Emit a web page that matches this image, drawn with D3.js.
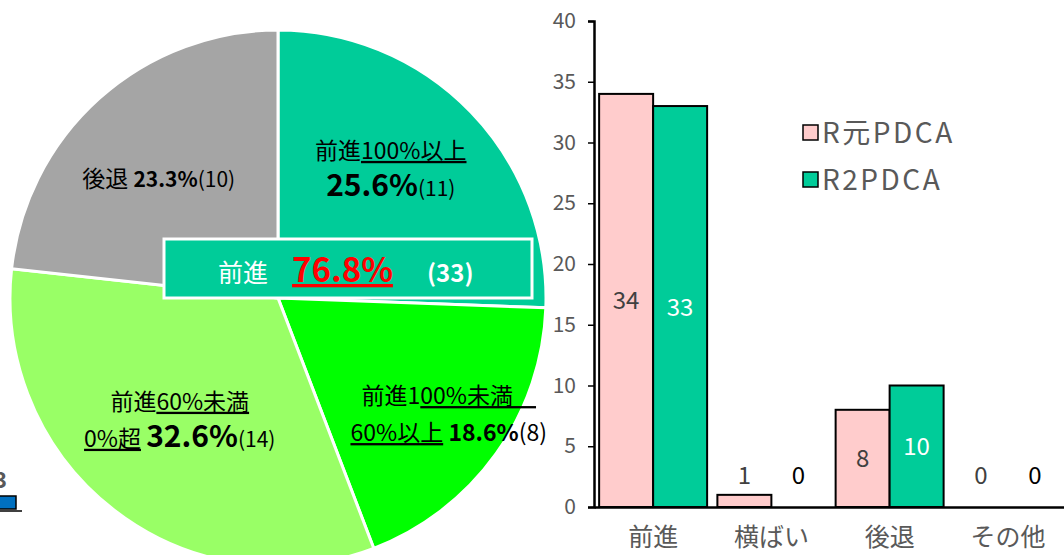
<!DOCTYPE html>
<html>
<head>
<meta charset="utf-8">
<script src="https://cdn.jsdelivr.net/npm/d3@7"></script>
<style>
  body { margin: 0; background: #fff; }
  svg { display: block; }
  text { font-family: "Noto Sans CJK JP", "Noto Sans", sans-serif; }
</style>
</head>
<body>
<div id="chart"></div>
<script>
// pie data
const pieNames = ["前進100%以上", "前進100%未満60%以上", "前進60%未満0%超", "後退"];
const pieCounts = [11, 8, 14, 10];
const pieColors = ["#00CC99", "#00FF00", "#99FF66", "#A5A5A5"];

// bar data
const categories = ["前進", "横ばい", "後退", "その他"];
const seriesNames = ["R元PDCA", "R2PDCA"];
const seriesR1 = [34, 1, 8, 0];
const seriesR2 = [33, 0, 10, 0];
const barColors = ["#FFCCCC", "#00CC99"];
const yTicks = [0, 5, 10, 15, 20, 25, 30, 35, 40];

const width = 1064, height = 555;
const gray = "#595959";

const svg = d3.select("#chart")
  .append("svg")
  .attr("width", width)
  .attr("height", height);

// --- leftover of a neighbouring chart at the bottom-left edge
svg.append("text")
  .attr("x", -6).attr("y", 488)
  .attr("font-size", 22).attr("font-weight", "bold")
  .attr("fill", "#595959")
  .text("3");
svg.append("rect")
  .attr("x", -2).attr("y", 496).attr("width", 18).attr("height", 13)
  .attr("fill", "#0070C0").attr("stroke", "#000").attr("stroke-width", 1.5);
svg.append("line")
  .attr("x1", 0).attr("x2", 22).attr("y1", 511).attr("y2", 511)
  .attr("stroke", "#000").attr("stroke-width", 1.5);

// ---------------- pie ----------------
const cx = 278, cy = 298, radius = 268;
const total = d3.sum(pieCounts);

const pie = d3.pie().sort(null).value(d => d);
const arc = d3.arc().innerRadius(0).outerRadius(radius);
const labelArc = d3.arc().innerRadius(radius * 0.6).outerRadius(radius * 0.6);

const pieG = svg.append("g").attr("transform", `translate(${cx},${cy})`);
const arcs = pie(pieCounts);

pieG.selectAll("path")
  .data(arcs)
  .join("path")
  .attr("d", arc)
  .attr("fill", (d, i) => pieColors[i])
  .attr("stroke", "#fff")
  .attr("stroke-width", 3);

const share = v => Math.round(v / total * 1000) / 10;
const pct = v => share(v).toFixed(1) + "%";

// label nudges away from the centroid
const labelShift = [[-3, -18], [40, 22], [0, -6], [-12, 0]];

function pieLabel(i, lines) {
  const c = labelArc.centroid(arcs[i]);
  lines.forEach((parts, li) => {
    const t = pieG.append("text")
      .attr("text-anchor", "middle")
      .attr("fill", "#000")
      .attr("x", c[0] + labelShift[i][0])
      .attr("y", c[1] + labelShift[i][1] + (li - (lines.length - 1) / 2) * 37 + 9);
    parts.forEach(p => {
      t.append("tspan")
        .attr("font-size", p.size || 23)
        .attr("font-weight", p.bold ? "bold" : "normal")
        .attr("text-decoration", p.u ? "underline" : null)
        .text(p.t);
    });
  });
}

pieLabel(0, [
  [{ t: "前進" }, { t: "100%以上", u: true }],
  [{ t: pct(pieCounts[0]), bold: true, size: 30 }, { t: `(${pieCounts[0]})`, size: 21 }]
]);
pieLabel(1, [
  [{ t: "前進1" }, { t: "00%未満　", u: true }],
  [{ t: "60%以上", u: true }, { t: " " + pct(pieCounts[1]), bold: true }, { t: `(${pieCounts[1]})` }]
]);
pieLabel(2, [
  [{ t: "前進" }, { t: "60%未満", u: true }],
  [{ t: "0%超", u: true }, { t: " " }, { t: pct(pieCounts[2]), bold: true, size: 30 }, { t: `(${pieCounts[2]})`, size: 21 }]
]);
pieLabel(3, [
  [{ t: "後退 " }, { t: pct(pieCounts[3]), bold: true, size: 21 }, { t: `(${pieCounts[3]})`, size: 21 }]
]);

// summary box: forward total (sum of the rounded shares, as in the source)
const fwd = pieCounts[0] + pieCounts[1] + pieCounts[2];
const fwdPct = (share(pieCounts[0]) + share(pieCounts[1]) + share(pieCounts[2])).toFixed(1) + "%";
const box = svg.append("g");
box.append("rect")
  .attr("x", 164).attr("y", 239).attr("width", 368).attr("height", 59)
  .attr("fill", "#00CC99").attr("stroke", "#fff").attr("stroke-width", 3);
const bt = box.append("text").attr("y", 282).attr("x", 218);
bt.append("tspan").attr("fill", "#fff").attr("font-size", 25).text("前進");
bt.append("tspan").attr("x", 292).attr("fill", "#FF0000").attr("font-size", 33)
  .attr("font-weight", "bold").attr("text-decoration", "underline")
  .text(fwdPct);
bt.append("tspan").attr("x", 427).attr("fill", "#fff").attr("font-size", 24)
  .attr("font-weight", "bold").text(`(${fwd})`);

// ---------------- bars ----------------
const x0 = d3.scaleBand().domain(categories).range([594, 1067]).padding(0);
const x1 = d3.scaleBand().domain(seriesNames).range([0, x0.bandwidth()]).paddingOuter(0.095);
const y = d3.scaleLinear().domain([0, 40]).range([507, 21]);

const rows = categories.map((c, i) => ({ cat: c, vals: [seriesR1[i], seriesR2[i]] }));

const groups = svg.append("g").selectAll("g")
  .data(rows)
  .join("g")
  .attr("transform", d => `translate(${x0(d.cat)},0)`);

groups.selectAll("rect")
  .data(d => d.vals.map((v, k) => ({ v, k })))
  .join("rect")
  .filter(d => d.v > 0)
  .attr("x", d => x1(seriesNames[d.k]))
  .attr("y", d => y(d.v))
  .attr("width", x1.bandwidth())
  .attr("height", d => y(0) - y(d.v))
  .attr("fill", d => barColors[d.k])
  .attr("stroke", "#000")
  .attr("stroke-width", 2);

groups.selectAll("text.val")
  .data(d => d.vals.map((v, k) => ({ v, k })))
  .join("text")
  .attr("class", "val")
  .attr("x", d => x1(seriesNames[d.k]) + x1.bandwidth() / 2)
  .attr("y", d => d.v >= 5 ? (y(d.v) + y(0)) / 2 + 9 : y(0) - 23)
  .attr("text-anchor", "middle")
  .attr("font-family", "Roboto, sans-serif")
  .attr("font-size", 24)
  .attr("fill", d => d.k === 0 ? "#404040" : (d.v >= 5 ? "#fff" : "#000"))
  .text(d => d.v);

// y axis
const yAxis = svg.append("g")
  .attr("transform", "translate(594,0)")
  .call(d3.axisLeft(y).tickValues(yTicks).tickSize(6).tickPadding(12));
yAxis.select(".domain").attr("stroke", "#000").attr("stroke-width", 2.5);
yAxis.selectAll(".tick line").attr("stroke", "#000").attr("stroke-width", 1.5);
yAxis.selectAll(".tick text")
  .attr("font-family", "Roboto, sans-serif")
  .attr("font-size", 21)
  .attr("fill", gray);

// x axis
const xAxis = svg.append("g")
  .attr("transform", "translate(0,507)")
  .call(d3.axisBottom(x0).tickSize(0).tickPadding(21));
xAxis.select(".domain").attr("stroke", "#000").attr("stroke-width", 2.5);
xAxis.selectAll(".tick text")
  .attr("font-size", 25)
  .attr("fill", gray);

// legend
const legend = svg.append("g").attr("transform", "translate(803,125)");
seriesNames.forEach((s, i) => {
  const g = legend.append("g").attr("transform", `translate(0,${i * 47})`);
  g.append("rect")
    .attr("width", 15).attr("height", 15)
    .attr("fill", barColors[i]).attr("stroke", "#000").attr("stroke-width", 1.5);
  g.append("text")
    .attr("x", 19).attr("y", 18)
    .attr("font-size", 28)
    .attr("letter-spacing", 2.5)
    .attr("fill", gray)
    .text(s);
});
</script>
</body>
</html>
